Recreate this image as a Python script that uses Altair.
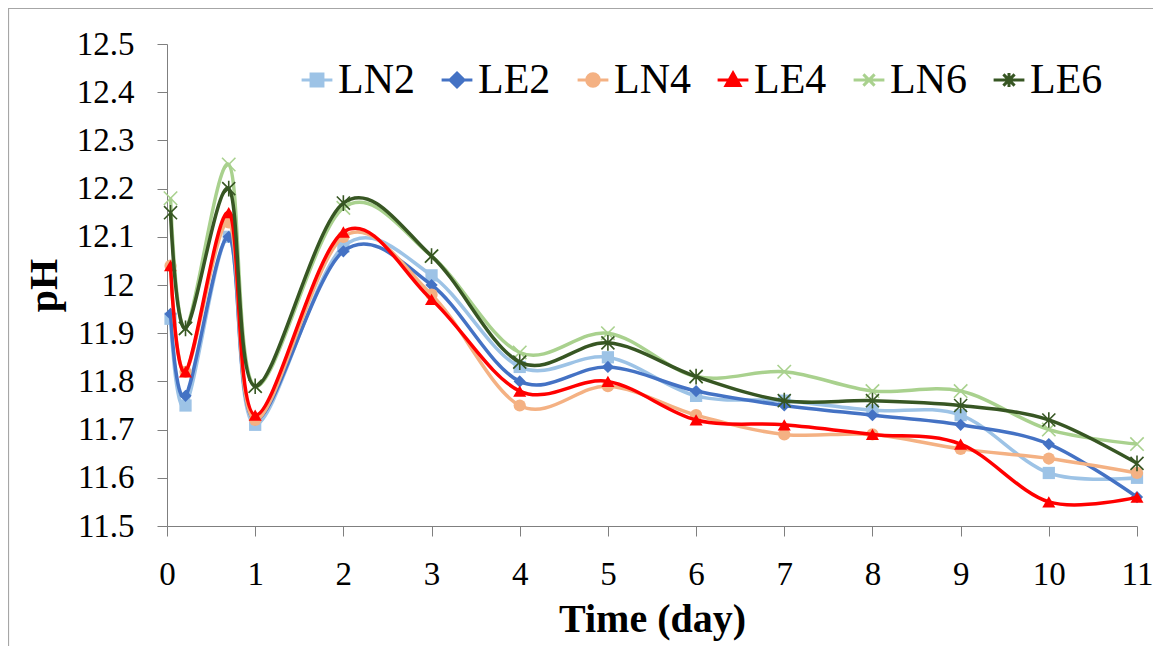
import altair as alt
import pandas as pd

# ---- data ----
times = [0.04, 0.21, 0.7, 1, 2, 3, 4, 5, 6, 7, 8, 9, 10, 11]
series_names = ["LN2", "LE2", "LN4", "LE4", "LN6", "LE6"]
LN2 = [11.93, 11.75, 12.10, 11.71, 12.08, 12.02, 11.83, 11.85, 11.77, 11.76, 11.74, 11.73, 11.61, 11.60]
LE2 = [11.94, 11.77, 12.10, 11.72, 12.07, 12.00, 11.80, 11.83, 11.78, 11.75, 11.73, 11.71, 11.67, 11.56]
LN4 = [12.04, 11.82, 12.13, 11.72, 12.10, 11.98, 11.75, 11.79, 11.73, 11.69, 11.69, 11.66, 11.64, 11.61]
LE4 = [12.04, 11.82, 12.15, 11.73, 12.11, 11.97, 11.78, 11.80, 11.72, 11.71, 11.69, 11.67, 11.55, 11.56]
LN6 = [12.18, 11.91, 12.25, 11.79, 12.16, 12.06, 11.86, 11.90, 11.81, 11.82, 11.78, 11.78, 11.70, 11.67]
LE6 = [12.15, 11.91, 12.20, 11.79, 12.17, 12.06, 11.84, 11.88, 11.81, 11.76, 11.76, 11.75, 11.72, 11.63]
x_ticks = [0, 1, 2, 3, 4, 5, 6, 7, 8, 9, 10, 11]
y_ticks = [11.5, 11.6, 11.7, 11.8, 11.9, 12.0, 12.1, 12.2, 12.3, 12.4, 12.5]

values = {"LN2": LN2, "LE2": LE2, "LN4": LN4, "LE4": LE4, "LN6": LN6, "LE6": LE6}
rows = []
for s in series_names:
    for t, v in zip(times, values[s]):
        rows.append({"time": t, "pH": v, "series": s})
df = pd.DataFrame(rows)

# ---- styles ----
colors = {"LN2": "#9DC3E6", "LE2": "#4472C4", "LN4": "#F4B183",
          "LE4": "#FF0000", "LN6": "#A9D18E", "LE6": "#375623"}
XPATH = "M-1,-1L1,1M1,-1L-1,1"
STARPATH = "M-1,-1L1,1M1,-1L-1,1M0,-1.2L0,1.2"
markers = {
    "LN2": dict(shape="square", filled=True, size=150),
    "LE2": dict(shape="diamond", filled=True, size=150),
    "LN4": dict(shape="circle", filled=True, size=150),
    "LE4": dict(shape="triangle-up", filled=True, size=170),
    "LN6": dict(shape=XPATH, filled=False, size=180, strokeWidth=1.6),
    "LE6": dict(shape=STARPATH, filled=False, size=170, strokeWidth=1.6),
}
legend_shapes = [
    "M-2.2,0H2.2M-0.85,-0.85H0.85V0.85H-0.85Z",
    "M-2.2,0H2.2M0,-1L1,0L0,1L-1,0Z",
    "M-2.2,0H2.2M0.9,0A0.9,0.9 0 1,1 -0.9,0A0.9,0.9 0 1,1 0.9,0Z",
    "M-2.2,0H2.2M0,-1L1,0.8L-1,0.8Z",
    "M-2.2,0H2.2M-0.8,-0.8L0.8,0.8M0.8,-0.8L-0.8,0.8",
    "M-2.2,0H2.2M-0.8,-0.8L0.8,0.8M0.8,-0.8L-0.8,0.8M0,-1L0,1",
]
FONT = "Liberation Serif"

x_enc = alt.X("time:Q", scale=alt.Scale(domain=[0, 11], nice=False),
              axis=alt.Axis(values=x_ticks, title="Time (day)", format="d"))
y_enc = alt.Y("pH:Q", scale=alt.Scale(domain=[11.5, 12.5], nice=False, zero=False),
              axis=alt.Axis(values=y_ticks, title="pH", format="~g"))

base = alt.Chart(df)

legend_kw = dict(orient="none", legendX=129, legendY=15, direction="horizontal",
                 columns=6, title=None, columnPadding=20, labelOffset=0,
                 symbolSize=196, symbolStrokeWidth=3, labelFontSize=42,
                 labelFont=FONT, labelColor="black", symbolOpacity=1, padding=0)
sc_domain = series_names
sc_range = [colors[s] for s in series_names]
legend_layer = base.mark_point(opacity=0).encode(
    x=x_enc, y=y_enc,
    fill=alt.Fill("series:N", scale=alt.Scale(domain=sc_domain, range=sc_range),
                  legend=alt.Legend(**legend_kw)),
    stroke=alt.Stroke("series:N", scale=alt.Scale(domain=sc_domain, range=sc_range),
                      legend=alt.Legend(**legend_kw)),
    shape=alt.Shape("series:N", scale=alt.Scale(domain=sc_domain, range=legend_shapes),
                    legend=alt.Legend(**legend_kw)),
)

layers = [legend_layer]
for s in series_names:
    sub = base.transform_filter(alt.datum.series == s)
    layers.append(sub.mark_line(interpolate="cardinal", color=colors[s],
                                strokeWidth=3.5).encode(x=x_enc, y=y_enc))
    m = dict(markers[s])
    filled = m.pop("filled")
    layers.append(sub.mark_point(filled=filled, color=colors[s], opacity=1, **m)
                  .encode(x=x_enc, y=y_enc))

frame = alt.Chart(pd.DataFrame({"a": [0]})).mark_rect(
    filled=False, stroke="#a6a6a6", strokeWidth=1.2, clip=False
).encode(x=alt.value(-158.5), x2=alt.value(1200), y=alt.value(-35.5), y2=alt.value(800))
layers.append(frame)

chart = alt.layer(*layers).properties(
    width=970, height=482,
    autosize=alt.AutoSizeParams(type="none"),
    padding={"left": 159, "top": 36, "right": 16, "bottom": 120},
).configure_view(stroke=None).configure_axis(
    grid=False, domainColor="#7f7f7f", tickColor="#7f7f7f", tickSize=10,
    labelFont=FONT, labelFontSize=33, labelColor="black",
    titleFont=FONT, titleFontSize=40, titleFontWeight="bold", titleColor="black",
).configure_axisX(labelPadding=22, titlePadding=8, labelFlush=False, labelOverlap=False
).configure_axisY(labelPadding=23, titlePadding=12, labelOverlap=False
).configure_legend(symbolOpacity=1)

chart.save("out.html", embed_options={"renderer": "svg", "actions": False})
